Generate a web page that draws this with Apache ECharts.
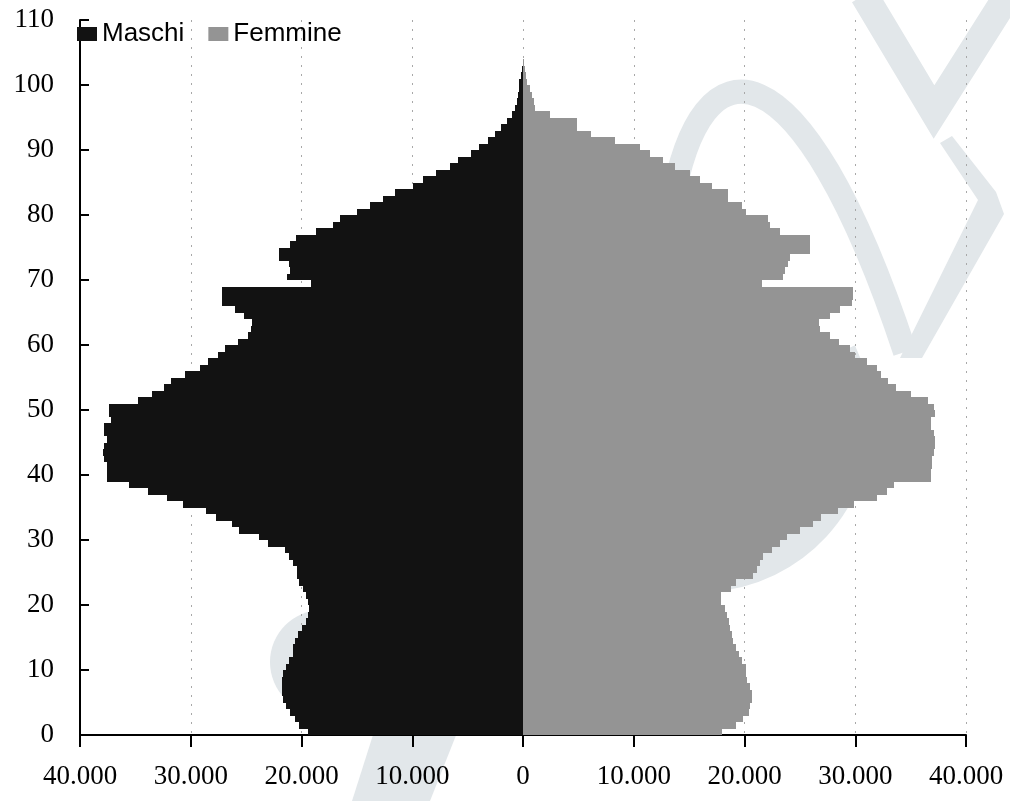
<!DOCTYPE html>
<html>
<head>
<meta charset="utf-8">
<script src="https://cdn.jsdelivr.net/npm/echarts@6/dist/echarts.min.js"></script>
<style>
html,body{margin:0;padding:0;background:#ffffff;}
#chart{width:1010px;height:801px;}
</style>
</head>
<body>
<div id="chart"></div>
<script>
// ---- data ----
// one category per age (0 .. 109); bars occupy ages 0..104
const ages = Array.from({length: 110}, (_, i) => String(i));
const seriesNames = ['Maschi', 'Femmine'];
// male population by age (ages 0..104)
const maschi = [
  19400, 20200, 20600, 21000, 21400, 21700, 21800, 21800, 21800, 21700,
  21400, 21100, 20800, 20800, 20600, 20300, 20000, 19600, 19400, 19300,
  19400, 19600, 19900, 20200, 20400, 20400, 20800, 21100, 21500, 23000,
  23800, 25600, 26300, 27700, 28600, 30700, 32100, 33900, 35600, 37600,
  37600, 37600, 37800, 37900, 37800, 37600, 37800, 37800, 37200, 37400,
  37400, 34800, 33500, 32400, 31800, 30500, 29200, 28400, 27500, 26900,
  25700, 24800, 24600, 24500, 25200, 26000, 27200, 27200, 27200, 19100,
  21300, 21000, 21100, 22000, 22000, 21000, 20500, 18700, 17200, 16500,
  15000, 13800, 12600, 11600, 9900, 9000, 7900, 6600, 5900, 4700,
  4000, 3200, 2500, 2000, 1400, 1000, 700, 540, 450, 400,
  360, 200, 80, 30, 10
];
// female population by age (ages 0..104)
const femmine = [
  18000, 19200, 19900, 20400, 20500, 20700, 20700, 20500, 20200, 20100,
  20100, 19800, 19500, 19200, 19000, 18900, 18700, 18600, 18400, 18200,
  17900, 17900, 18800, 19200, 20800, 21100, 21400, 21700, 22500, 23200,
  23800, 25000, 26200, 26900, 28400, 29900, 32000, 32900, 33500, 36800,
  36800, 36900, 36900, 37100, 37200, 37200, 37100, 36800, 36800, 37200,
  37100, 36600, 35000, 33700, 33000, 32300, 32000, 31100, 30000, 29500,
  28500, 27700, 26800, 26700, 27700, 28600, 29700, 29800, 29800, 21600,
  23500, 23700, 23900, 24100, 25900, 25900, 25900, 23200, 22300, 22100,
  20100, 19800, 18500, 18500, 17100, 16000, 15100, 13700, 12600, 11500,
  10600, 8300, 6100, 4900, 4900, 2400, 1100, 990, 810, 630,
  360, 270, 150, 80, 30
];
const xMin = -40000, xMax = 40000, xStep = 10000;
const yMin = 0, yMax = 110, yStep = 10;

function fmtThousands(v) {
  return String(Math.abs(v)).replace(/\B(?=(\d{3})+(?!\d))/g, '.');
}

const serifFont = '"Liberation Serif", "Times New Roman", serif';
const sansFont = '"Liberation Sans", Arial, sans-serif';
const wm = '#e2e7ea';
const maleColor = '#121212';
const femaleColor = '#949494';

// bar drawn through the cartesian scales, edges snapped to whole pixels so
// neighbouring ages touch without hairline gaps
function renderBar(params, api) {
  const cat = api.value(0);
  const val = api.value(1);
  const p0 = api.coord([0, cat]);
  const p1 = api.coord([val, cat]);
  const h = api.size([0, 1])[1];
  const yTop = Math.round(p0[1] - h / 2);
  const yBot = Math.round(p0[1] + h / 2);
  const xa = Math.round(Math.min(p0[0], p1[0]));
  const xb = Math.round(Math.max(p0[0], p1[0]));
  return {
    type: 'rect',
    shape: {x: xa, y: yTop, width: xb - xa, height: yBot - yTop},
    style: {fill: api.visual('color')}
  };
}

const chart = echarts.init(document.getElementById('chart'), null, {renderer: 'canvas'});
chart.setOption({
  backgroundColor: '#ffffff',
  animation: false,
  color: [maleColor, femaleColor],
  legend: {
    data: seriesNames,
    left: 72,
    top: 16,
    icon: 'rect',
    itemWidth: 20,
    itemHeight: 14,
    itemGap: 24,
    textStyle: {fontFamily: sansFont, fontSize: 26, color: '#000'}
  },
  grid: {left: 80, right: 44, top: 20, bottom: 66, containLabel: false},
  xAxis: {
    type: 'value',
    min: xMin, max: xMax, interval: xStep,
    axisLine: {onZero: false, lineStyle: {color: '#000', width: 2}},
    axisTick: {show: true, length: 12, lineStyle: {color: '#000', width: 2}},
    axisLabel: {
      formatter: fmtThousands,
      fontFamily: serifFont, fontSize: 27, color: '#000', margin: 28
    },
    splitLine: {show: true, lineStyle: {color: '#a8a8a8', width: 1, type: [2, 7]}}
  },
  yAxis: [
    {
      type: 'category', data: ages, boundaryGap: true,
      show: false
    },
    {
      type: 'value', min: yMin, max: yMax, interval: yStep, position: 'left',
      axisLine: {show: false, onZero: false},
      axisTick: {show: false},
      splitLine: {show: false},
      axisLabel: {fontFamily: serifFont, fontSize: 27, color: '#000', margin: 26}
    },
    {
      type: 'value', min: yMin, max: yMax, interval: yStep, position: 'left',
      axisLine: {show: true, onZero: true, lineStyle: {color: '#000', width: 2}},
      axisTick: {show: true, inside: true, length: 9, lineStyle: {color: '#000', width: 2}},
      axisLabel: {show: false},
      splitLine: {show: false}
    }
  ],
  graphic: [
    {type: 'bezierCurve', silent: true, z: 0,
     shape: {x1: 672, y1: 205, cpx1: 700, cpy1: 35, cpx2: 800, cpy2: 35, x2: 905, y2: 352},
     style: {stroke: wm, lineWidth: 24, fill: null}},
    {type: 'polygon', silent: true, z: 0,
     shape: {points: [[900, 358], [922, 358], [1004, 214], [996, 192], [952, 136], [940, 143], [978, 200]]},
     style: {fill: wm}},
    {type: 'polyline', silent: true, z: 0,
     shape: {points: [[864, -5], [934, 112], [1008, -5]]},
     style: {stroke: wm, lineWidth: 28, fill: null}},
    {type: 'arc', silent: true, z: 0,
     shape: {cx: 700, cy: 420, r: 155, startAngle: -0.45, endAngle: 1.9},
     style: {stroke: wm, lineWidth: 34, fill: null}},
    {type: 'circle', silent: true, z: 0,
     shape: {cx: 322, cy: 662, r: 52},
     style: {fill: wm}},
    {type: 'polygon', silent: true, z: 0,
     shape: {points: [[400, 650], [468, 640], [470, 700], [430, 801], [352, 801]]},
     style: {fill: wm}}
  ],
  series: [
    {
      name: seriesNames[0], type: 'custom', coordinateSystem: 'cartesian2d',
      xAxisIndex: 0, yAxisIndex: 0,
      itemStyle: {color: maleColor},
      encode: {x: 1, y: 0},
      renderItem: renderBar,
      data: maschi.map((v, i) => [i, -v]), z: 3
    },
    {
      name: seriesNames[1], type: 'custom', coordinateSystem: 'cartesian2d',
      xAxisIndex: 0, yAxisIndex: 0,
      itemStyle: {color: femaleColor},
      encode: {x: 1, y: 0},
      renderItem: renderBar,
      data: femmine.map((v, i) => [i, v]), z: 3
    }
  ]
});
</script>
</body>
</html>
